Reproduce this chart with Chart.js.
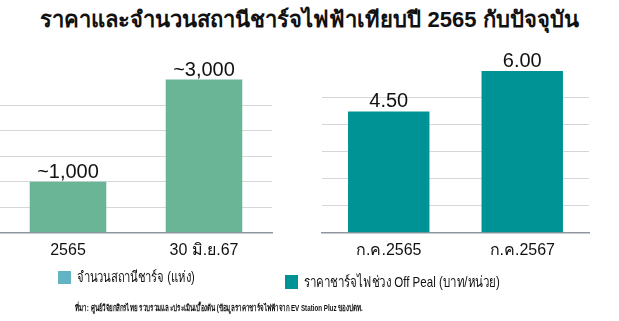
<!DOCTYPE html>
<html><head><meta charset="utf-8">
<script src="https://cdn.jsdelivr.net/npm/chart.js@4.4.1/dist/chart.umd.min.js"></script>
<style>
html,body{margin:0;padding:0;background:#fff;width:619px;height:321px;overflow:hidden;font-family:"Liberation Sans",Arial,sans-serif;}
#title{position:absolute;left:0;top:2px;width:619px;text-align:center;font-weight:bold;font-size:22px;color:#111;white-space:nowrap;}
.wrap{position:absolute;}
.leg{position:absolute;font-size:15px;color:#111;white-space:nowrap;display:flex;align-items:center;}
.sw{display:inline-block;width:13px;height:13px;margin-right:6px;}
.lt{display:inline-block;transform-origin:left center;}
#src{position:absolute;left:75px;top:301px;font-size:9px;font-weight:bold;color:#111;white-space:nowrap;transform:scaleX(0.69);transform-origin:left center;}
</style></head>
<body>
<div id="title">ราคาและจำนวนสถานีชาร์จไฟฟ้าเทียบปี 2565 กับปัจจุบัน</div>
<div class="wrap" style="left:0;top:40px;width:280px;height:228px;"><canvas id="c1"></canvas></div>
<div class="wrap" style="left:300px;top:40px;width:300px;height:228px;"><canvas id="c2"></canvas></div>
<div class="leg" id="leg1" style="left:58px;top:265px;"><span class="sw" style="background:#62b3c4"></span><span class="lt" id="l1" style="transform:scaleX(0.75)"></span></div>
<div class="leg" id="leg2" style="left:285px;top:270px;"><span class="sw" style="background:#009396;width:13px;height:14px"></span><span class="lt" id="l2" style="transform:scaleX(0.77)"></span></div>
<div id="src">ที่มา: ศูนย์วิจัยกสิกรไทย รวบรวมและประเมินเบื้องต้น (ข้อมูลราคาชาร์จไฟฟ้าจาก EV Station Pluz ของปตท.</div>
<script>
const stationCategories = ["2565", "30 มิ.ย.67"];
const stationValues = [1000, 3000];
const stationLabels = ["~1,000", "~3,000"];
const stationSeriesName = "จำนวนสถานีชาร์จ (แห่ง)";

const priceCategories = ["ก.ค.2565", "ก.ค.2567"];
const priceValues = [4.5, 6.0];
const priceLabels = ["4.50", "6.00"];
const priceSeriesName = "ราคาชาร์จไฟช่วง Off Peal (บาท/หน่วย)";

document.getElementById('l1').textContent = stationSeriesName;
document.getElementById('l2').textContent = priceSeriesName;

const FONT = "'Liberation Sans', Arial, sans-serif";

function labelPlugin(texts) {
  return {
    id: 'vlabels',
    afterDatasetsDraw(chart) {
      const ctx = chart.ctx;
      const meta = chart.getDatasetMeta(0);
      ctx.save();
      ctx.font = "20px " + FONT;
      ctx.fillStyle = "#111";
      ctx.textAlign = "center";
      ctx.textBaseline = "alphabetic";
      meta.data.forEach((bar, i) => {
        ctx.fillText(texts[i], bar.x, bar.y - 4);
      });
      ctx.restore();
    }
  };
}

function makeChart(id, cats, vals, texts, name, color, ymax, step, gridMax, barPct, pad) {
  return new Chart(document.getElementById(id), {
    type: 'bar',
    data: { labels: cats, datasets: [{ label: name, data: vals, backgroundColor: color, borderWidth: 0, categoryPercentage: 1, barPercentage: barPct }] },
    options: {
      responsive: true, maintainAspectRatio: false, animation: false,
      layout: { padding: pad },
      plugins: { legend: { display: false }, tooltip: { enabled: false } },
      scales: {
        x: {
          grid: { display: false, drawTicks: false },
          border: { display: true, color: '#8f969e', width: 1.5 },
          ticks: { color: '#111', font: { size: 16, family: FONT }, padding: 8, maxRotation: 0 }
        },
        y: {
          min: 0, max: ymax,
          ticks: { display: false, stepSize: step },
          border: { display: false },
          grid: {
            drawTicks: false,
            lineWidth: 1,
            color: c => (c.tick && c.tick.value > 0 && c.tick.value <= gridMax) ? '#d3d7db' : 'rgba(0,0,0,0)'
          }
        }
      }
    },
    plugins: [labelPlugin(texts)]
  });
}

makeChart('c1', stationCategories, stationValues, stationLabels, stationSeriesName, '#6bb597', 3500, 500, 2500, 0.563, { left: 0, right: 8, top: 14, bottom: 0 });
makeChart('c2', priceCategories, priceValues, priceLabels, priceSeriesName, '#009396', 7, 1, 5, 0.61, { left: 22, right: 11, top: 4, bottom: 0 });
</script>
</body></html>
